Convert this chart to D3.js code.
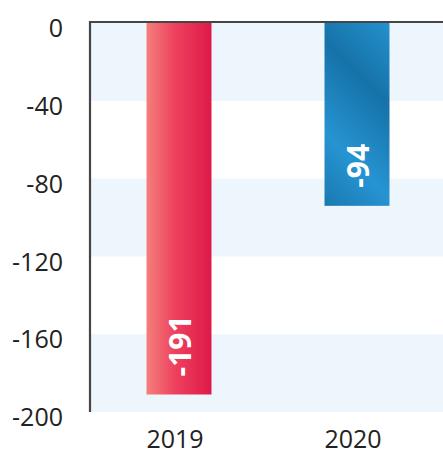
<!DOCTYPE html>
<html>
<head>
<meta charset="utf-8">
<script src="https://cdn.jsdelivr.net/npm/d3@7"></script>
<style>
  html, body { margin: 0; padding: 0; background: #ffffff; }
  svg { display: block; }
  text { font-family: "Open Sans", "Noto Sans", sans-serif; }
</style>
</head>
<body>
<svg id="chart" width="443" height="455"></svg>
<script>
// Yearly values
const years = ["2019", "2020"];
const values = [-191, -94];
const tickValues = [0, -40, -80, -120, -160, -200];
const bandStarts = [0, -80, -160]; // shaded stripes, each 40 units deep
const bandDepth = 40;

const m = { left: 90, top: 23, right: 443, bottom: 412 };
const fmt = d => String(d); // plain hyphen-minus

const svg = d3.select("#chart");
const defs = svg.append("defs");

const x = d3.scaleBand()
  .domain(years)
  .range([m.left, m.left + 356])
  .paddingInner(0.635)
  .paddingOuter(0.3175);

const y = d3.scaleLinear()
  .domain([0, -200])
  .range([m.top, m.bottom]);

// alternating light stripes behind the bars
svg.append("g")
  .selectAll("rect")
  .data(bandStarts)
  .join("rect")
  .attr("x", m.left)
  .attr("width", m.right - m.left)
  .attr("y", d => y(d))
  .attr("height", d => y(d - bandDepth) - y(d))
  .attr("fill", "#edf5fd");

// frame: top line
svg.append("line")
  .attr("x1", m.left - 1).attr("x2", m.right)
  .attr("y1", m.top - 1).attr("y2", m.top - 1)
  .attr("stroke", "#454545").attr("stroke-width", 2.2);

// red bar gradient (horizontal)
const red = defs.append("linearGradient")
  .attr("id", "gRed")
  .attr("x1", "0").attr("y1", "0").attr("x2", "1").attr("y2", "0");
red.append("stop").attr("offset", "0").attr("stop-color", "#f47f7b");
red.append("stop").attr("offset", "0.45").attr("stop-color", "#ed405d");
red.append("stop").attr("offset", "1").attr("stop-color", "#de1949");

// blue bar gradient (diagonal, reflected stripes)
const bx = x("2020");
const blue = defs.append("linearGradient")
  .attr("id", "gBlue")
  .attr("gradientUnits", "userSpaceOnUse")
  .attr("spreadMethod", "reflect")
  .attr("x1", bx).attr("y1", m.top + 110)
  .attr("x2", bx + 46).attr("y2", m.top + 110 - 46);
blue.append("stop").attr("offset", "0").attr("stop-color", "#2694d2");
blue.append("stop").attr("offset", "1").attr("stop-color", "#1672a8");

const fills = ["url(#gRed)", "url(#gBlue)"];

const bars = svg.append("g")
  .selectAll("g")
  .data(years.map((yr, i) => ({ yr, v: values[i], fill: fills[i] })))
  .join("g");

bars.append("rect")
  .attr("x", d => x(d.yr))
  .attr("width", x.bandwidth())
  .attr("y", y(0))
  .attr("height", d => y(d.v) - y(0))
  .attr("fill", d => d.fill);

bars.append("text")
  .attr("transform", d => `translate(${x(d.yr) + x.bandwidth() / 2},${y(d.v) - 18}) rotate(-90)`)
  .attr("dy", "0.4em")
  .attr("text-anchor", "start")
  .attr("fill", "#ffffff")
  .attr("font-weight", "700")
  .attr("font-size", "30px")
  .text(d => fmt(d.v));

// y axis
const yAxis = svg.append("g")
  .attr("transform", `translate(${m.left},0)`)
  .call(d3.axisLeft(y).tickValues(tickValues).tickSize(0).tickPadding(27).tickFormat(fmt));
yAxis.select(".domain")
  .attr("stroke", "#454545").attr("stroke-width", 2.2)
  .attr("d", `M0,${m.top - 2}V${m.bottom}`);
yAxis.selectAll("text")
  .attr("font-size", "25px")
  .attr("fill", "#222222")
  .attr("dy", "0.55em")
  .style("font-family", "'Open Sans', sans-serif");

// x axis labels
const xAxis = svg.append("g")
  .attr("transform", `translate(0,${m.bottom})`)
  .call(d3.axisBottom(x).tickSize(0).tickPadding(0));
xAxis.select(".domain").remove();
xAxis.selectAll("text")
  .attr("font-size", "25px")
  .attr("fill", "#222222")
  .attr("dx", "-4")
  .attr("y", 36)
  .attr("dy", "0")
  .style("font-family", "'Open Sans', sans-serif");
</script>
</body>
</html>
